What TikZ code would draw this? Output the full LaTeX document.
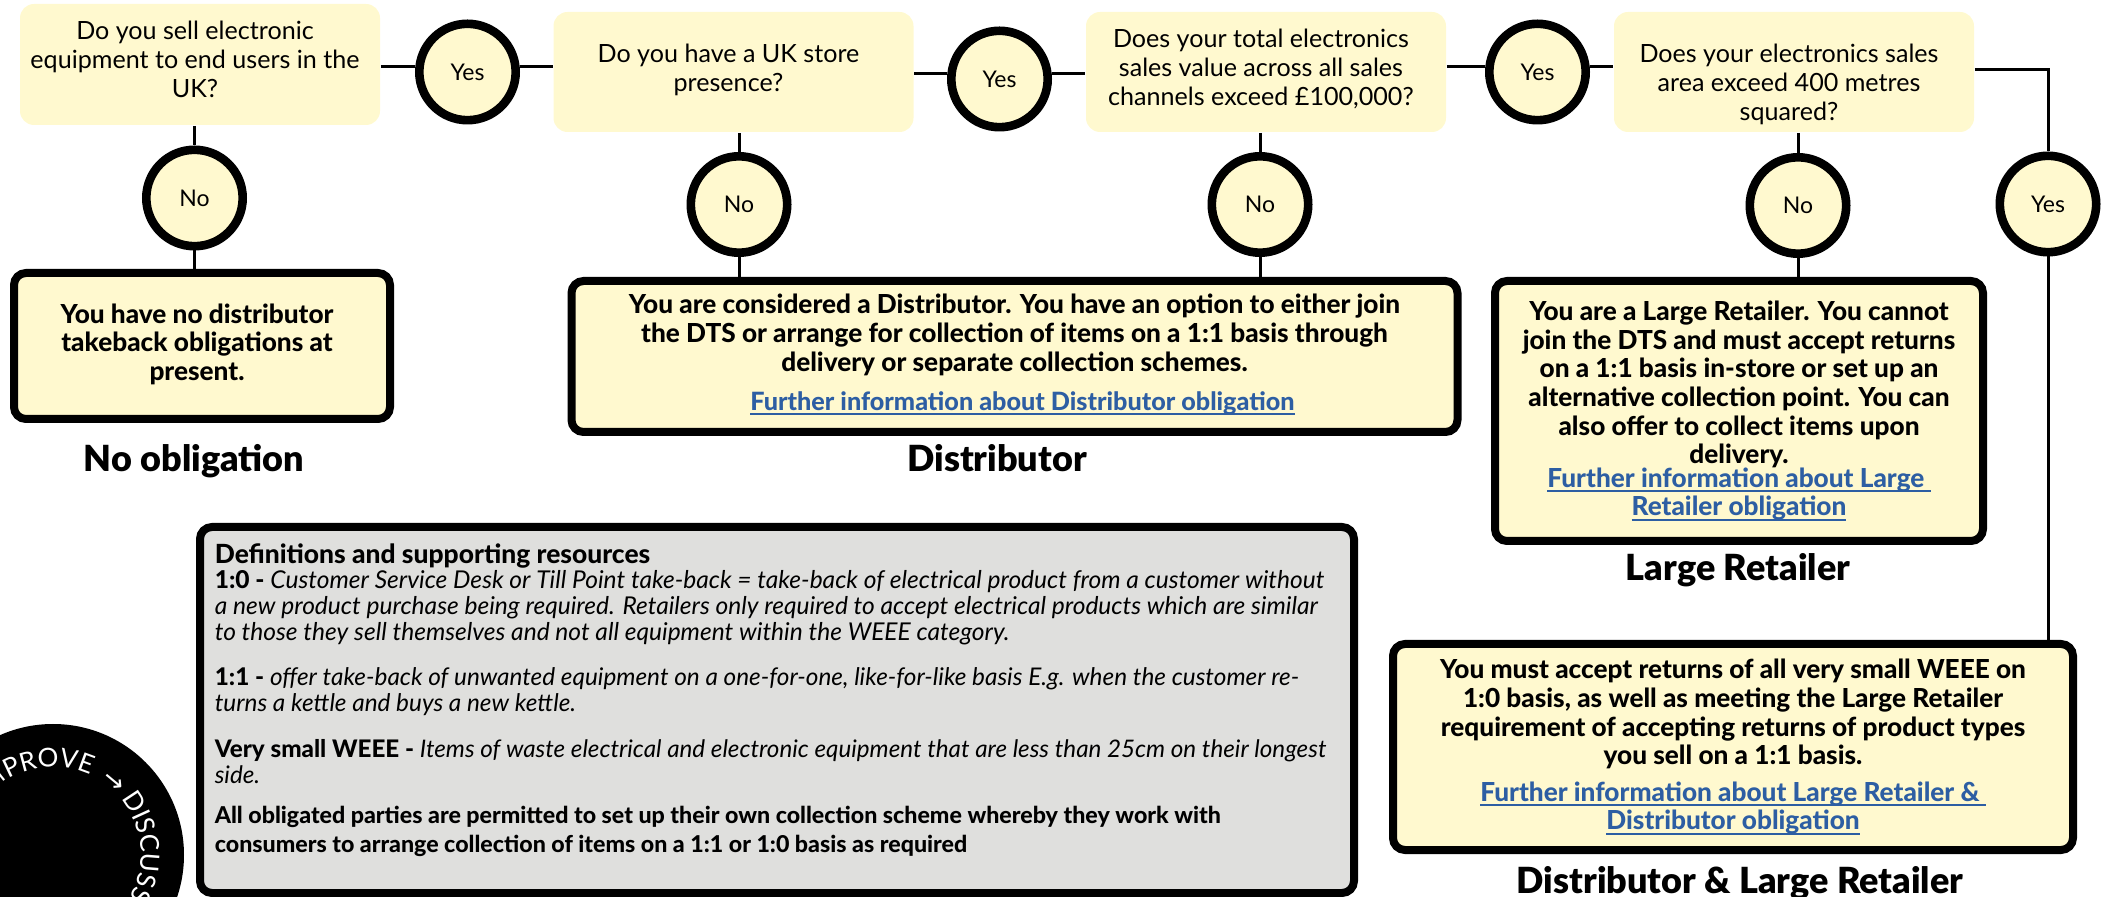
\documentclass[tikz,border=0pt]{standalone}
\usepackage{fontspec}
\usetikzlibrary{decorations.text}
\setmainfont[BoldFont={Lato Heavy}]{Lato}
\newfontfamily\headfont{Lato Black}
\newfontfamily\arrowfont{DejaVu Sans}
\definecolor{cream}{HTML}{FFF9CF}
\definecolor{defgrey}{HTML}{DFDFDD}
\definecolor{linkblue}{HTML}{2D5EA3}
\newcommand{\furtherlink}[1]{\sbox0{#1}\textcolor{linkblue}{\rlap{\rule[-2.4pt]{\wd0}{1pt}}#1}}
\newcommand{\badgefont}{\color{white}\fontsize{13}{15}\selectfont}
\newcommand{\badgearrow}{\color{white}\arrowfont\fontsize{13}{15}\selectfont}
\newcommand{\ls}{\hspace*{-5pt}}
\newcommand{\holdup}[1]{\rule[-#1]{0pt}{#1}}
\newcommand{\holddown}[1]{\rule{0pt}{#1}}

\begin{document}
\begin{tikzpicture}[x=0.5pt, y=-0.5pt, thick,
    quest/.style = {fill=cream, rounded corners=7pt, minimum width=180pt, minimum height=60pt, inner sep=0pt, align=center, font=\fontsize{12.55}{14.4}\selectfont},
    answer/.style = {draw, circle, line width=4.3pt, fill=cream, minimum size=48.2pt, inner sep=0pt, font=\fontsize{11.5}{14}\selectfont},
    result/.style = {draw, line width=4pt, fill=cream, rounded corners=6pt, inner sep=0pt, align=center, font=\bfseries\fontsize{13.1}{14.3}\selectfont},
    heading/.style = {anchor=base, font=\headfont\fontsize{18}{20}\selectfont},
    defs/.style = {anchor=north west, inner sep=0pt, align=left, font=\fontsize{12.27}{12.9}\selectfont},
    conn/.style = {line width=1.5pt}]
    \useasboundingbox (0,0) rectangle (2111,897);

    % questions
    \node[quest, minimum height=60.5pt] (q1) at (200,64.5) {\ls Do you sell electronic\\\ls equipment to end users in the\\\ls UK?\holdup{5pt}};
    \node[quest] (q2) at (733.5,72) {\ls Do you have a UK store\\\ls presence?\holdup{4pt}};
    \node[quest] (q3) at (1266,72) {\ls Does your total electronics\\\ls sales value across all sales\\\ls channels exceed £100,000?\holdup{5pt}};
    \node[quest] (q4) at (1794,72) {\holddown{21.5pt}\ls Does your electronics sales\\\ls area exceed 400 metres\\\ls squared?};

    % yes and no circles
    \node[answer] (y1) at (467.5,72) {Yes};
    \node[answer] (y2) at (999.5,79) {Yes};
    \node[answer] (y3) at (1537.5,72) {Yes};
    \node[answer] (y4) at (2048,204) {Yes};
    \node[answer] (n1) at (194.5,198) {No};
    \node[answer] (n2) at (739,204.5) {No};
    \node[answer] (n3) at (1260,204.5) {No};
    \node[answer] (n4) at (1798,205.5) {No};

    % outcomes
    \node[result, minimum width=188pt, minimum height=73pt] (r1) at (202,346) {\ls You have no distributor\\\ls takeback obligations at\\\ls present.\holdup{4pt}};
    \node[result, minimum width=443pt, minimum height=75.5pt] (r2) at (1014.5,356.5) {You are considered a Distributor. You have an option to either join\\the DTS or arrange for collection of items on a 1:1 basis through\\delivery or separate collection schemes.\\[5.5pt]\hspace*{8pt}{\fontsize{12.6}{14.3}\selectfont\furtherlink{Further information about Distributor obligation}}\holdup{4pt}};
    \node[result, minimum width=244pt, minimum height=130pt] (r3) at (1739,411) {You are a Large Retailer. You cannot\\join the DTS and must accept returns\\on a 1:1 basis in-store or set up an\\alternative collection point. You can\\also offer to collect items upon\\delivery.\\[-2.5pt]\furtherlink{Further information about Large\ }\\\furtherlink{Retailer obligation}};
    \node[result, minimum width=340pt, minimum height=103pt] (r4) at (1733,747) {You must accept returns of all very small WEEE on\\1:0 basis, as well as meeting the Large Retailer\\requirement of accepting returns of product types\\you sell on a 1:1 basis.\\[4pt]\furtherlink{Further information about Large Retailer \&\ }\\\furtherlink{Distributor obligation}};

    \node[heading] (t1) at (194,471.5) {No obligation};
    \node[heading] (t2) at (997,472) {Distributor};
    \node[heading] (t3) at (1738,580.5) {Large Retailer};
    \node[heading] (t4) at (1740,893) {Distributor \& Large Retailer};

    % tree edges
    \coordinate (c1) at (0,67);
    \coordinate (c2) at (0,74);
    \coordinate (c3) at (0,70);
    \draw[conn] (q1.east|-c1) -- (y1.west|-c1);
    \draw[conn] (y1.east|-c1) -- (q2.west|-c1);
    \draw[conn] (q2.east|-c2) -- (y2.west|-c2);
    \draw[conn] (y2.east|-c2) -- (q3.west|-c2);
    \draw[conn] (q3.east|-c1) -- (y3.west|-c1);
    \draw[conn] (y3.east|-c1) -- (q4.west|-c1);
    \draw[conn] (q4.east|-c3) -| (y4.north);
    \draw[conn] (y4.south) -- (y4.south|-r4.north);
    \draw[conn] (n1.north|-q1.south) -- (n1.north);
    \draw[conn] (n1.south) -- (n1.south|-r1.north);
    \draw[conn] (n2.north|-q2.south) -- (n2.north);
    \draw[conn] (n2.south) -- (n2.south|-r2.north);
    \draw[conn] (n3.north|-q3.south) -- (n3.north);
    \draw[conn] (n3.south) -- (n3.south|-r3.north);
    \draw[conn] (n4.north|-q4.south) -- (n4.north);
    \draw[conn] (n4.south) -- (n4.south|-r3.north);

    % definitions
    \node[draw, line width=4pt, fill=defgrey, rounded corners=6pt, minimum width=577pt, minimum height=183pt] (d0) at (777,710) {};
    \node[defs] (d1) at (214,543) {\fontsize{13.2}{15}\selectfont\bfseries Definitions and supporting resources};
    \node[defs] (d2) at (214,570) {\textbf{1:0 - }\textit{Customer Service Desk or Till Point take-back = take-back of electrical product from a customer without}\\\textit{a new product purchase being required. Retailers only required to accept electrical products which are similar}\\\textit{to those they sell themselves and not all equipment within the WEEE category.}};
    \node[defs, font=\fontsize{12.17}{12.9}\selectfont] (d3) at (214,667) {\textbf{1:1 - }\textit{offer take-back of unwanted equipment on a one-for-one, like-for-like basis E.g. when the customer re-}\\\textit{turns a kettle and buys a new kettle.}};
    \node[defs, font=\fontsize{12.1}{12.9}\selectfont] (d4) at (214,739) {\textbf{Very small WEEE - }\textit{Items of waste electrical and electronic equipment that are less than 25cm on their longest}\\\textit{side.}};
    \node[defs, font=\bfseries\fontsize{11.6}{14.4}\selectfont] (d5) at (214,805.5) {All obligated parties are permitted to set up their own collection scheme whereby they work with\\consumers to arrange collection of items on a 1:1 or 1:0 basis as required};

    % round badge, cut by the page edge
    \begin{scope}
        \clip (0,0) rectangle (2111,897);
        \fill (53,855) circle (65.5pt);
        \path[decorate, decoration={text along path, text={|\badgefont|IMPROVE ||{ }|\badgearrow|→||{ }|\badgefont|DISCUSS}}] (53,855) ++(141:44pt) arc[start angle=141, end angle=-40, radius=44pt];
    \end{scope}
\end{tikzpicture}
\end{document}
